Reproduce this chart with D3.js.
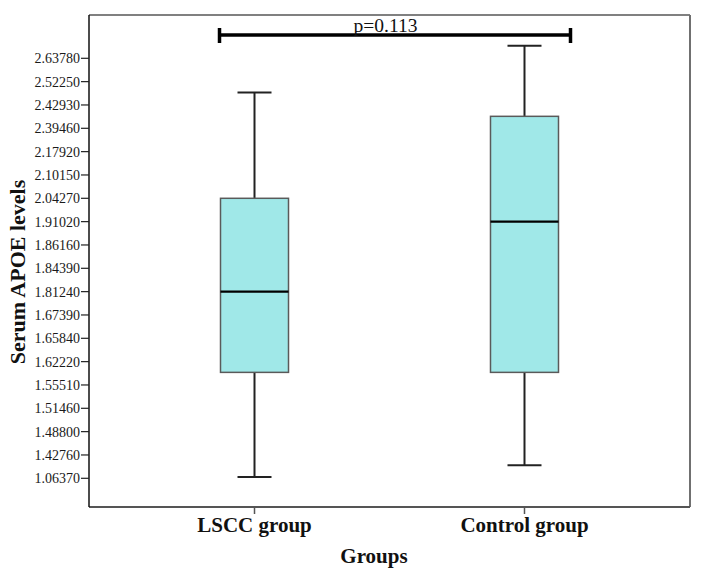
<!DOCTYPE html>
<html>
<head>
<meta charset="utf-8">
<script src="https://cdn.jsdelivr.net/npm/d3@7/dist/d3.min.js"></script>
<style>
  html, body { margin: 0; padding: 0; background: #fff; }
  svg { display: block; }
</style>
</head>
<body>
<script>
// ---- Data ----
const groups = ["LSCC group", "Control group"];
const whiskerLow  = [1.0840, 1.2675];
const q1          = [1.5913, 1.5913];
const median      = [1.8124, 1.9102];
const q3          = [2.0427, 2.4124];
const whiskerHigh = [2.4787, 2.7000];

// tick labels as printed on the axis (top to bottom)
const yTickLabels = ["2.63780","2.52250","2.42930","2.39460","2.17920","2.10150","2.04270",
  "1.91020","1.86160","1.84390","1.81240","1.67390","1.65840","1.62220","1.55510",
  "1.51460","1.48800","1.42760","1.06370"];
const pValueLabel = "p=0.113";
const xTitle = "Groups";
const yTitle = "Serum APOE levels";

// ---- Layout ----
const W = 702, H = 576;
const plot = {left: 89, right: 690, top: 15, bottom: 507};

const svg = d3.select("body").append("svg").attr("width", W).attr("height", H);

// y axis: tick labels evenly spaced, values mapped piecewise onto them
const yValuesAsc = yTickLabels.map(Number).slice().reverse();
const tickPos = d3.scalePoint().domain(d3.range(yTickLabels.length)).range([58.3, 478.3]);
const yPosAsc = d3.range(yTickLabels.length).map(i => tickPos(yTickLabels.length - 1 - i));
const y = d3.scaleLinear().domain(yValuesAsc).range(yPosAsc);

const x = d3.scalePoint().domain(groups).range([plot.left, plot.right]).padding(0.613);
const boxW = 68, capW = 34;

// frame
svg.append("line").attr("x1", plot.left).attr("x2", plot.right).attr("y1", plot.top).attr("y2", plot.top)
  .attr("stroke", "#808080").attr("stroke-width", 2);
svg.append("line").attr("x1", plot.right).attr("x2", plot.right).attr("y1", plot.top).attr("y2", plot.bottom)
  .attr("stroke", "#707070").attr("stroke-width", 2);
svg.append("line").attr("x1", plot.left).attr("x2", plot.right).attr("y1", plot.bottom).attr("y2", plot.bottom)
  .attr("stroke", "#555").attr("stroke-width", 2);
svg.append("line").attr("x1", plot.left).attr("x2", plot.left).attr("y1", plot.top).attr("y2", plot.bottom)
  .attr("stroke", "#111").attr("stroke-width", 1.5);

// y ticks
const yAxis = svg.append("g");
yTickLabels.forEach((lab, i) => {
  const py = y(+lab);
  yAxis.append("line").attr("x1", plot.left - 8).attr("x2", plot.left).attr("y1", py).attr("y2", py)
    .attr("stroke", "#222").attr("stroke-width", 1.2);
  yAxis.append("text").attr("x", plot.left - 9).attr("y", py).attr("dy", "0.35em")
    .attr("text-anchor", "end").attr("font-family", "Liberation Serif, serif").attr("font-size", 14)
    .attr("fill", "#1a1a1a").text(lab);
});

// x ticks + labels
groups.forEach(g => {
  svg.append("line").attr("x1", x(g)).attr("x2", x(g)).attr("y1", plot.bottom).attr("y2", plot.bottom + 7)
    .attr("stroke", "#555").attr("stroke-width", 1.5);
  svg.append("text").attr("x", x(g)).attr("y", 532).attr("text-anchor", "middle")
    .attr("font-family", "Liberation Serif, serif").attr("font-weight", "bold").attr("font-size", 21)
    .attr("fill", "#111").text(g);
});

// axis titles
svg.append("text").attr("x", 374).attr("y", 563).attr("text-anchor", "middle")
  .attr("font-family", "Liberation Serif, serif").attr("font-weight", "bold").attr("font-size", 21)
  .attr("fill", "#111").text(xTitle);
svg.append("text").attr("transform", "translate(25,272) rotate(-90)").attr("text-anchor", "middle")
  .attr("font-family", "Liberation Serif, serif").attr("font-weight", "bold").attr("font-size", 22)
  .attr("fill", "#111").text(yTitle);

// boxes
groups.forEach((g, i) => {
  const cx = x(g);
  const gg = svg.append("g");
  gg.append("line").attr("x1", cx).attr("x2", cx).attr("y1", y(whiskerLow[i])).attr("y2", y(q1[i]))
    .attr("stroke", "#222").attr("stroke-width", 2);
  gg.append("line").attr("x1", cx).attr("x2", cx).attr("y1", y(q3[i])).attr("y2", y(whiskerHigh[i]))
    .attr("stroke", "#222").attr("stroke-width", 2);
  [whiskerLow[i], whiskerHigh[i]].forEach(v => {
    gg.append("line").attr("x1", cx - capW / 2).attr("x2", cx + capW / 2).attr("y1", y(v)).attr("y2", y(v))
      .attr("stroke", "#222").attr("stroke-width", 2);
  });
  gg.append("rect").attr("x", cx - boxW / 2).attr("width", boxW)
    .attr("y", y(q3[i])).attr("height", y(q1[i]) - y(q3[i]))
    .attr("fill", "#a0e8e8").attr("stroke", "#5a5a5a").attr("stroke-width", 1.5);
  gg.append("line").attr("x1", cx - boxW / 2).attr("x2", cx + boxW / 2).attr("y1", y(median[i])).attr("y2", y(median[i]))
    .attr("stroke", "#000").attr("stroke-width", 2.2);
});

// significance bracket
const bx1 = x(groups[0]) - 35, bx2 = x(groups[1]) + 46, by = 35;
svg.append("line").attr("x1", bx1).attr("x2", bx2).attr("y1", by).attr("y2", by)
  .attr("stroke", "#000").attr("stroke-width", 3.5);
[bx1, bx2].forEach(bx => {
  svg.append("line").attr("x1", bx).attr("x2", bx).attr("y1", 28).attr("y2", 43)
    .attr("stroke", "#000").attr("stroke-width", 3.5);
});
svg.append("text").attr("x", 385.5).attr("y", 32).attr("text-anchor", "middle")
  .attr("font-family", "Liberation Serif, serif").attr("font-size", 18)
  .attr("textLength", 64).attr("lengthAdjust", "spacingAndGlyphs")
  .attr("fill", "#111").text(pValueLabel);
</script>
</body>
</html>
